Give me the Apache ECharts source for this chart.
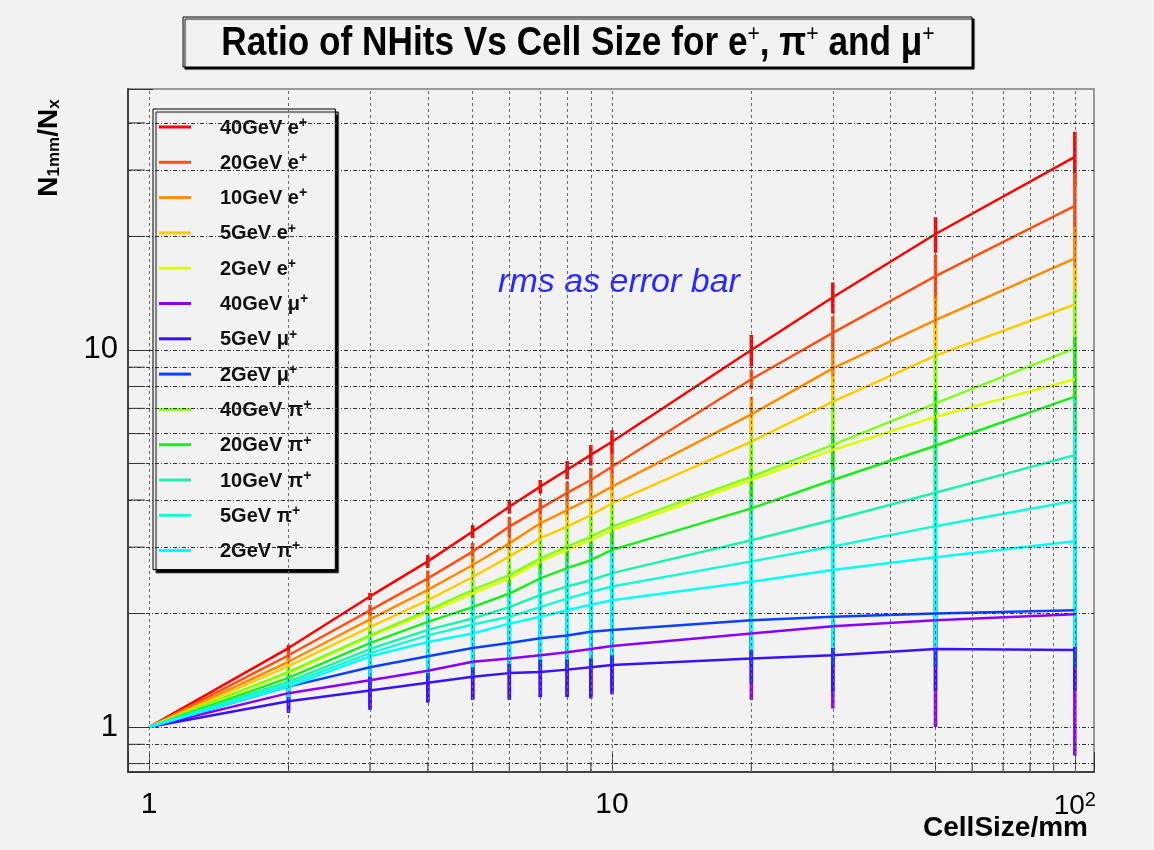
<!DOCTYPE html>
<html>
<head>
<meta charset="utf-8">
<title>Ratio of NHits Vs Cell Size</title>
<script src="https://cdn.jsdelivr.net/npm/echarts@6/dist/echarts.min.js"></script>
<style>
  html, body { margin: 0; padding: 0; background: #f2f2f2; }
  #main { width: 1154px; height: 850px; }
</style>
</head>
<body>
<div id="main"></div>
<script>
// cell size (mm) of every measured point
const cellSize = [1, 2, 3, 4, 5, 6, 7, 8, 9, 10, 20, 30, 50, 100];

// N(1mm)/N(x) and its rms, one pair of arrays per beam
const e40 = [1, 1.62, 2.22, 2.75, 3.30, 3.84, 4.34, 4.81, 5.27, 5.71, 10.0, 13.8, 20.3, 32.5];
const e40Rms = [0, 0.03, 0.05, 0.11, 0.13, 0.16, 0.18, 0.27, 0.33, 0.42, 0.96, 1.3, 2.2, 5.4];
const e20 = [1, 1.55, 2.04, 2.48, 2.92, 3.40, 3.80, 4.18, 4.52, 4.90, 8.36, 11.1, 15.7, 24.1];
const e20Rms = [0, 0.04, 0.07, 0.12, 0.16, 0.21, 0.24, 0.3, 0.34, 0.4, 0.5, 1.2, 2.2, 5.3];
const e10 = [1, 1.49, 1.93, 2.31, 2.69, 3.07, 3.47, 3.76, 4.04, 4.34, 6.75, 8.94, 12.0, 17.5];
const e10Rms = [0, 0.04, 0.07, 0.12, 0.15, 0.12, 0.2, 0.25, 0.3, 0.35, 0.77, 1.1, 1.9, 3.7];
const e5 = [1, 1.45, 1.84, 2.17, 2.50, 2.83, 3.17, 3.40, 3.65, 3.92, 5.71, 7.29, 9.66, 13.2];
const e5Rms = [0, 0.04, 0.07, 0.12, 0.15, 0.12, 0.2, 0.25, 0.3, 0.35, 0.94, 1.2, 2.0, 3.4];
const e2 = [1, 1.39, 1.74, 2.01, 2.26, 2.48, 2.75, 2.95, 3.13, 3.33, 4.52, 5.43, 6.65, 8.36];
const e2Rms = [0, 0.04, 0.07, 0.1, 0.14, 0.16, 0.2, 0.25, 0.3, 0.33, 0.8, 1.1, 1.6, 2.6];
const mu40 = [1, 1.23, 1.33, 1.41, 1.49, 1.52, 1.55, 1.58, 1.61, 1.64, 1.77, 1.85, 1.92, 1.99];
const mu40Rms = [0, 0.12, 0.2, 0.24, 0.3, 0.33, 0.35, 0.37, 0.4, 0.4, 0.59, 0.73, 0.92, 1.15];
const mu5 = [1, 1.17, 1.25, 1.31, 1.36, 1.39, 1.40, 1.42, 1.44, 1.46, 1.52, 1.55, 1.61, 1.60];
const mu5Rms = [0, 0.08, 0.14, 0.15, 0.18, 0.21, 0.2, 0.22, 0.25, 0.24, 0.21, 0.31, 0.36, 0.35];
const mu2 = [1, 1.28, 1.44, 1.54, 1.62, 1.67, 1.72, 1.75, 1.79, 1.81, 1.92, 1.96, 2.00, 2.04];
const mu2Rms = [0, 0.1, 0.15, 0.2, 0.25, 0.27, 0.3, 0.32, 0.35, 0.36, 0.45, 0.5, 0.55, 0.6];
const pi40 = [1, 1.40, 1.75, 2.04, 2.31, 2.53, 2.80, 3.01, 3.20, 3.40, 4.61, 5.60, 7.22, 10.1];
const pi40Rms = [0, 0.06, 0.12, 0.2, 0.27, 0.36, 0.4, 0.45, 0.5, 0.55, 1.28, 1.9, 2.8, 4.2];
const pi20 = [1, 1.35, 1.67, 1.90, 2.08, 2.26, 2.48, 2.64, 2.77, 2.95, 3.80, 4.52, 5.57, 7.52];
const pi20Rms = [0, 0.06, 0.12, 0.2, 0.25, 0.3, 0.35, 0.4, 0.45, 0.5, 1.0, 1.5, 2.2, 3.3];
const pi10 = [1, 1.32, 1.61, 1.81, 1.94, 2.08, 2.24, 2.36, 2.45, 2.56, 3.13, 3.54, 4.18, 5.26];
const pi10Rms = [0, 0.07, 0.14, 0.22, 0.26, 0.32, 0.36, 0.4, 0.45, 0.5, 0.95, 1.3, 1.8, 2.24];
const pi5 = [1, 1.30, 1.57, 1.75, 1.87, 1.96, 2.08, 2.19, 2.28, 2.36, 2.75, 3.01, 3.41, 3.98];
const pi5Rms = [0, 0.07, 0.15, 0.25, 0.3, 0.36, 0.4, 0.46, 0.52, 0.56, 0.85, 1.1, 1.5, 2.0];
const pi2 = [1, 1.28, 1.54, 1.68, 1.77, 1.88, 1.96, 2.04, 2.11, 2.17, 2.43, 2.61, 2.82, 3.11];
const pi2Rms = [0, 0.08, 0.18, 0.29, 0.33, 0.41, 0.45, 0.53, 0.59, 0.62, 0.83, 0.99, 1.2, 1.48];

const seriesNames = ['40GeV e+', '20GeV e+', '10GeV e+', '5GeV e+', '2GeV e+',
  '40GeV μ+', '5GeV μ+', '2GeV μ+',
  '40GeV π+', '20GeV π+', '10GeV π+', '5GeV π+', '2GeV π+'];
const seriesValues = [e40, e20, e10, e5, e2, mu40, mu5, mu2, pi40, pi20, pi10, pi5, pi2];
const seriesRms = [e40Rms, e20Rms, e10Rms, e5Rms, e2Rms, mu40Rms, mu5Rms, mu2Rms,
  pi40Rms, pi20Rms, pi10Rms, pi5Rms, pi2Rms];
const seriesColors = ['#ff0000', '#ff5014', '#ff8c00', '#ffcc00', '#ddff00',
  '#8a00ff', '#3a10ff', '#0a40ff',
  '#80ff1a', '#1aee1a', '#20f0b0', '#18f8d8', '#00ffff'];

// grid lines and minor ticks
const xGrid = [1, 2, 3, 4, 5, 6, 7, 8, 9, 10, 20, 30, 40, 50, 60, 70, 80, 90, 100];
const yGrid = [0.8, 0.9, 1, 2, 3, 4, 5, 6, 7, 8, 9, 10, 20, 30, 40];
const xMinor = [2, 3, 4, 5, 6, 7, 8, 9, 20, 30, 40, 50, 60, 70, 80, 90];
const yMinor = [0.8, 0.9, 2, 3, 4, 5, 6, 7, 8, 9, 20, 30, 40];

const FONT = "'Liberation Sans', Arial, sans-serif";

const chart = echarts.init(document.getElementById('main'));

function tickSeries(values, dir, len) {
  return {
    name: 'ticks-' + dir,
    type: 'custom',
    silent: true,
    data: values.map(v => dir === 'x' ? [v, 1] : [1, v]),
    encode: { x: 0, y: 1 },
    renderItem: function (params, api) {
      const cs = params.coordSys;
      const p = api.coord([api.value(0), api.value(1)]);
      let shape;
      if (dir === 'x') {
        const yb = cs.y + cs.height;
        shape = { x1: p[0], y1: yb, x2: p[0], y2: yb - len };
      } else {
        shape = { x1: cs.x, y1: p[1], x2: cs.x + len, y2: p[1] };
      }
      return { type: 'line', shape: shape, style: { stroke: '#333', lineWidth: 1 } };
    }
  };
}

function gridSeries(name, items, color, dash) {
  return {
    name: name,
    type: 'line',
    data: [],
    silent: true,
    markLine: {
      silent: true,
      animation: false,
      symbol: ['none', 'none'],
      label: { show: false },
      lineStyle: { color: color, width: 1, type: dash },
      data: items
    }
  };
}

const series = [];
series.push(gridSeries('grid-x', xGrid.map(v => ({ xAxis: v })), '#666', [3, 3]));
series.push(gridSeries('grid-y', yGrid.map(v => ({ yAxis: v })), '#333', [4, 2, 1, 2]));
series.push(tickSeries(xMinor, 'x', 10));
series.push(tickSeries(yMinor, 'y', 17));

seriesNames.forEach(function (name, k) {
  const vals = seriesValues[k];
  const rms = seriesRms[k];
  const color = seriesColors[k];
  series.push({
    name: name,
    type: 'line',
    color: color,
    symbol: 'none',
    lineStyle: { width: 2.5, color: color },
    data: cellSize.map((x, i) => [x, vals[i]])
  });
  series.push({
    name: name + ' rms',
    type: 'custom',
    clip: true,
    data: cellSize.map((x, i) => [x, vals[i] - rms[i], vals[i] + rms[i]]).filter(d => d[2] > d[1]),
    encode: { x: 0, y: [1, 2] },
    renderItem: function (params, api) {
      const a = api.coord([api.value(0), api.value(1)]);
      const b = api.coord([api.value(0), api.value(2)]);
      return {
        type: 'line',
        shape: { x1: a[0], y1: a[1], x2: b[0], y2: b[1] },
        style: { stroke: color, lineWidth: 3.5 }
      };
    }
  });
});

function near(v, t) { return Math.abs(v - t) < t * 1e-6; }

const option = {
  backgroundColor: '#f2f2f2',
  animation: false,
  textStyle: { fontFamily: FONT },
  grid: {
    left: 128, top: 89, right: 60, bottom: 78,
    show: true, borderColor: '#999', borderWidth: 2
  },
  xAxis: {
    type: 'log',
    logBase: 10,
    min: 0.9,
    max: 110,
    axisLine: { lineStyle: { color: '#444', width: 2 } },
    axisTick: { inside: true, length: 20, lineStyle: { color: '#333' } },
    splitLine: { show: false },
    axisLabel: {
      margin: 18,
      fontSize: 30,
      color: '#000',
      fontFamily: FONT,
      formatter: function (v) {
        if (near(v, 1)) return '1';
        if (near(v, 10)) return '10';
        if (near(v, 100)) return '{b|10}{c|2}';
        return '';
      },
      rich: {
        b: { fontSize: 28, lineHeight: 30, verticalAlign: 'bottom', fontFamily: FONT, color: '#000' },
        c: { fontSize: 20, lineHeight: 18, verticalAlign: 'top', fontFamily: FONT, color: '#000' }
      }
    }
  },
  yAxis: {
    type: 'log',
    logBase: 10,
    min: 0.76,
    max: 49.2,
    axisLine: { lineStyle: { color: '#444', width: 2 } },
    axisTick: { inside: true, length: 25, lineStyle: { color: '#333' } },
    splitLine: { show: false },
    axisLabel: {
      margin: 10,
      fontSize: 31,
      color: '#000',
      fontFamily: FONT,
      formatter: function (v) {
        if (near(v, 1)) return '1';
        if (near(v, 10)) return '10';
        return '';
      }
    }
  },
  legend: {
    orient: 'vertical',
    left: 153,
    top: 109,
    data: seriesNames.map(n => ({ name: n, icon: 'rect' })),
    itemWidth: 32,
    itemHeight: 3,
    itemGap: 13.3,
    padding: [7, 24, 8, 6],
    backgroundColor: '#f2f2f2',
    borderColor: '#000',
    borderWidth: 1,
    shadowColor: '#000',
    shadowOffsetX: 3,
    shadowOffsetY: 3,
    shadowBlur: 1,
    selectedMode: false,
    formatter: function (n) { return '{n|' + n.slice(0, -1) + '}{p|+}'; },
    textStyle: {
      padding: [0, 0, 0, 24],
      rich: {
        n: { fontSize: 20, fontWeight: 'bold', lineHeight: 22, verticalAlign: 'bottom', fontFamily: FONT, color: '#111' },
        p: { fontSize: 14, fontWeight: 'bold', lineHeight: 12, verticalAlign: 'top', fontFamily: FONT, color: '#111' }
      }
    }
  },
  graphic: [
    {
      type: 'rect',
      x: 183, y: 17,
      shape: { width: 789, height: 50 },
      style: { fill: '#f2f2f2', stroke: '#000', lineWidth: 1, shadowColor: '#000', shadowOffsetX: 2, shadowOffsetY: 2, shadowBlur: 1 }
    },
    {
      type: 'text',
      x: 578, y: 43,
      scaleX: 0.88,
      style: {
        text: '{t|Ratio of NHits Vs Cell Size for e}{s|+}{t|, π}{s|+}{t| and μ}{s|+}',
        align: 'center',
        verticalAlign: 'middle',
        rich: {
          t: { fontSize: 40, fontWeight: 'bold', lineHeight: 42, verticalAlign: 'bottom', fontFamily: FONT, fill: '#000' },
          s: { fontSize: 24, lineHeight: 24, verticalAlign: 'top', fontFamily: FONT, fill: '#000' }
        }
      }
    },
    {
      type: 'text',
      x: 49, y: 148,
      rotation: Math.PI / 2,
      style: {
        text: '{n|N}{s|1mm}{n|/N}{s|x}',
        align: 'center',
        verticalAlign: 'middle',
        rich: {
          n: { fontSize: 28, fontWeight: 'bold', lineHeight: 28, verticalAlign: 'top', fontFamily: FONT, fill: '#000' },
          s: { fontSize: 17, fontWeight: 'bold', lineHeight: 17, padding: [17, 0, 0, 0], verticalAlign: 'bottom', fontFamily: FONT, fill: '#000' }
        }
      }
    },
    {
      type: 'text',
      x: 1088, y: 828,
      style: {
        text: 'CellSize/mm',
        align: 'right',
        verticalAlign: 'middle',
        font: 'bold 28px ' + FONT,
        fill: '#000'
      }
    },
    {
      type: 'text',
      x: 619, y: 283,
      style: {
        text: 'rms as error bar',
        align: 'center',
        verticalAlign: 'middle',
        font: 'italic 34px ' + FONT,
        fill: '#2a2aff'
      }
    }
  ],
  series: series
};

chart.setOption(option);
window.addEventListener('resize', function () {
  chart.resize();
});
</script>
</body>
</html>
